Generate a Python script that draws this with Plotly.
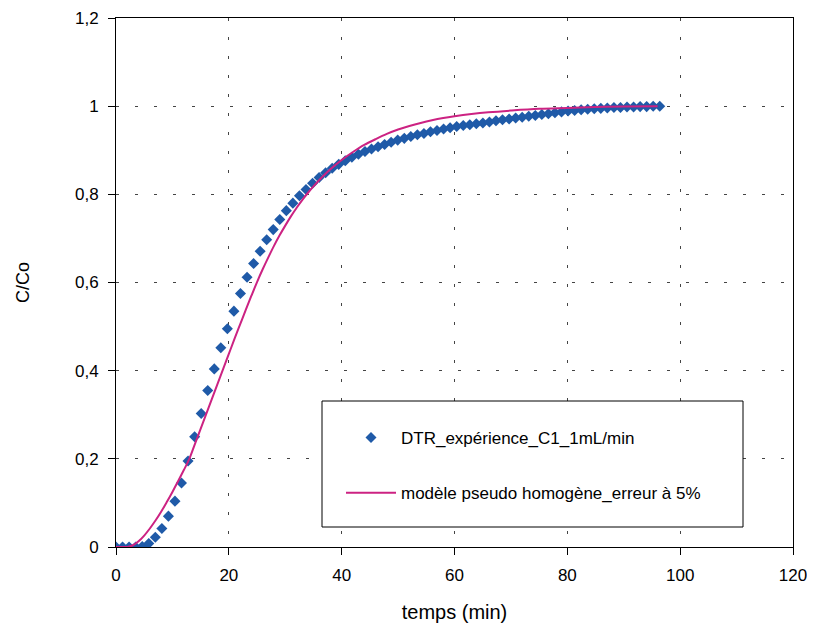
import plotly.graph_objects as go

# Experimental data (DTR)
temps_exp = [0, 1.16, 2.32, 3.48, 4.65, 5.81, 6.97, 8.13, 9.29, 10.45, 11.61, 12.77, 13.94,
             15.1, 16.26, 17.42, 18.58, 19.74, 20.9, 22.06, 23.23, 24.39, 25.55, 26.71,
             27.87, 29.03, 30.19, 31.35, 32.52, 33.68, 34.84, 36.0, 37.16, 38.32, 39.48,
             40.64, 41.81, 42.97, 44.13, 45.29, 46.45, 47.61, 48.77, 49.93, 51.1, 52.26,
             53.42, 54.58, 55.74, 56.9, 58.06, 59.22, 60.39, 61.55, 62.71, 63.87, 65.03,
             66.19, 67.35, 68.51, 69.68, 70.84, 72.0, 73.16, 74.32, 75.48, 76.64, 77.8,
             78.97, 80.13, 81.29, 82.45, 83.61, 84.77, 85.93, 87.09, 88.26, 89.42, 90.58,
             91.74, 92.9, 94.06, 95.22, 96.38]
c_exp = [0, 0, 0, 0, 0.001, 0.008, 0.022, 0.042, 0.07, 0.104, 0.145, 0.195, 0.25,
         0.303, 0.355, 0.404, 0.452, 0.495, 0.535, 0.575, 0.612, 0.643, 0.671, 0.697,
         0.72, 0.743, 0.763, 0.78, 0.797, 0.811, 0.825, 0.838, 0.849, 0.859, 0.868,
         0.876, 0.884, 0.891, 0.897, 0.903, 0.908, 0.913, 0.918, 0.923, 0.927, 0.931,
         0.935, 0.938, 0.942, 0.945, 0.948, 0.951, 0.954, 0.956, 0.958, 0.96, 0.962,
         0.964, 0.967, 0.969, 0.971, 0.973, 0.975, 0.977, 0.979, 0.981, 0.983, 0.985,
         0.987, 0.989, 0.99, 0.992, 0.993, 0.994, 0.995, 0.996, 0.997, 0.997, 0.998,
         0.998, 0.999, 0.999, 1.0, 1.0]

# Pseudo-homogeneous model
temps_mod = [0, 1, 2, 3, 4, 5, 6, 7, 8, 9, 10, 11, 12, 13, 14, 15, 16, 17, 18, 19, 20,
             21, 22, 23, 24, 25, 26, 27, 28, 29, 30, 31, 32, 33, 34, 35, 36, 37, 38, 40,
             42, 44, 46, 48, 50, 52, 54, 56, 58, 60, 63, 66, 70, 75, 80, 85, 90, 96]
c_mod = [0, 0, 0, 0.004, 0.013, 0.026, 0.042, 0.06, 0.08, 0.102, 0.125, 0.149, 0.174,
         0.2, 0.234, 0.268, 0.302, 0.336, 0.37, 0.404, 0.438, 0.472, 0.505, 0.538, 0.57,
         0.601, 0.63, 0.657, 0.683, 0.707, 0.729, 0.75, 0.769, 0.787, 0.803, 0.818,
         0.832, 0.845, 0.857, 0.878, 0.896, 0.912, 0.925, 0.937, 0.947, 0.955, 0.962,
         0.968, 0.973, 0.977, 0.982, 0.986, 0.99, 0.994, 0.996, 0.998, 0.999, 1.0]

x_ticks = [0, 20, 40, 60, 80, 100, 120]
y_ticks = [0, 0.2, 0.4, 0.6, 0.8, 1, 1.2]

FONT = "Liberation Sans, Arial, sans-serif"

# page offset (body margin) of 8px
OFF = 8
L, R, T, B = 116 - OFF, 815 - 793 + OFF, 18 - OFF, 637 - 547 + OFF
PW = 815 - L - R
PH = 637 - T - B


def px_x(p):
    return (p - OFF - L) / PW


def px_y(p):
    return (637 - B - (p - OFF)) / PH


fig = go.Figure()
fig.add_trace(go.Scatter(
    x=temps_exp, y=c_exp, mode="markers",
    name="DTR_expérience_C1_1mL/min",
    marker=dict(symbol="diamond", size=8.5, color="#1f5aa8"),
    legendgroup="a",
))
fig.add_trace(go.Scatter(
    x=temps_mod, y=c_mod, mode="lines",
    name="modèle pseudo homogène_erreur à 5%",
    line=dict(color="#cc2282", width=2, shape="spline"),
    legendgroup="b",
))

axis_common = dict(
    showline=True, linecolor="black", linewidth=1, mirror=True,
    ticks="outside", ticklen=7, tickcolor="black",
    showgrid=True, gridcolor="#444444", gridwidth=1, griddash="3px,16px",
    zeroline=False, automargin=False,
    tickfont=dict(family=FONT, size=17, color="black"),
)

fig.update_xaxes(range=[0, 120], tickvals=x_ticks, **axis_common, ticklabelstandoff=6,
                 title=dict(text="temps (min)", font=dict(family=FONT, size=20, color="black"),
                            standoff=20))
fig.update_yaxes(range=[0, 1.2], tickvals=y_ticks, **axis_common, ticklabelstandoff=6,
                 title=dict(text="C/Co", font=dict(family=FONT, size=18, color="black"),
                            standoff=40))

# legend frame
fig.add_shape(type="rect", xref="paper", yref="paper",
              x0=px_x(322), x1=px_x(743), y0=px_y(527), y1=px_y(401),
              line=dict(color="black", width=1), fillcolor="white", layer="above")

fig.update_layout(
    width=815, height=637,
    margin=dict(l=L, r=R, t=T, b=B),
    plot_bgcolor="white", paper_bgcolor="white",
    separators=", ",
    font=dict(family=FONT, size=16, color="black"),
    legend=dict(
        x=px_x(341), y=px_y(420), xanchor="left", yanchor="top",
        bgcolor="rgba(0,0,0,0)", borderwidth=0,
        font=dict(family=FONT, size=17, color="black"),
        tracegroupgap=30, traceorder="grouped", itemwidth=50,
    ),
)

fig.write_html("out.html")
